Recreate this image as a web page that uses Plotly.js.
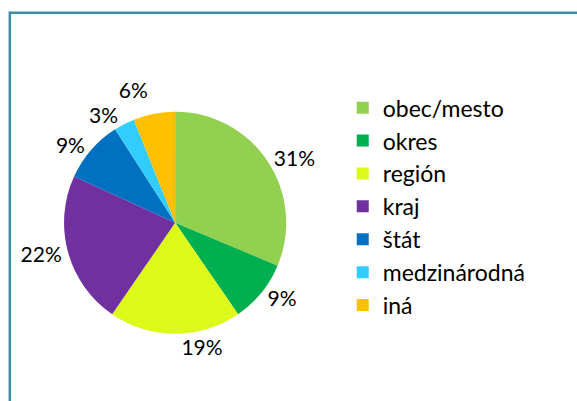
<!DOCTYPE html>
<html>
<head>
<meta charset="utf-8">
<script src="https://cdn.plot.ly/plotly-3.0.1.min.js"></script>
<style>
  html, body { margin: 0; padding: 0; background: #fff; }
  #chart { width: 577px; height: 401px; }
  /* the reference has no leader lines on the small slices */
  #chart path.textline { display: none; }
</style>
</head>
<body>
<div id="chart"></div>
<script>
// categories and shares (percent)
var labels = ["obec/mesto", "okres", "región", "kraj", "štát", "medzinárodná", "iná"];
var values = [31, 9, 19, 22, 9, 3, 6];
var colors = ["#92d050", "#00b050", "#dcf91a", "#7030a0", "#0070c0", "#33ccff", "#ffc000"];

var trace = {
    type: "pie",
    labels: labels,
    values: values,
    sort: false,
    direction: "clockwise",
    rotation: 0,
    marker: {colors: colors, line: {width: 0}},
    textposition: "outside",
    texttemplate: "%{percent:.0%}",
    textfont: {family: "Lato, sans-serif", size: 21, color: "#000"},
    hoverinfo: "none",
    domain: {x: [0.111, 0.496], y: [0.167, 0.722]}
};

var layout = {
    width: 577,
    height: 401,
    margin: {l: 0, r: 0, t: 0, b: 0, autoexpand: false},
    paper_bgcolor: "#fff",
    showlegend: true,
    legend: {
        x: 0.594, xanchor: "left",
        y: 0.785, yanchor: "top",
        font: {family: "Lato, sans-serif", size: 23, color: "#000"},
        tracegroupgap: 0,
        itemclick: false
    },
    shapes: [{
        type: "rect", xref: "paper", yref: "paper",
        x0: 0.017, x1: 1.05, y0: -0.05, y1: 0.968,
        line: {color: "#3b8ea5", width: 2.5}
    }]
};

Plotly.newPlot("chart", [trace], layout, {staticPlot: true});
</script>
</body>
</html>
